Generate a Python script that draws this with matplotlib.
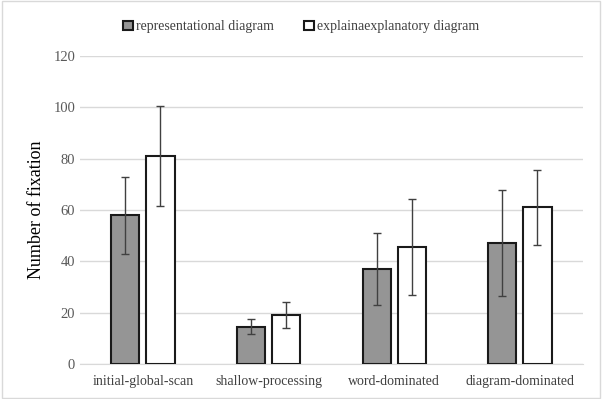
import matplotlib.pyplot as plt
import numpy as np
from matplotlib.patches import Rectangle

categories = ['initial-global-scan', 'shallow-processing', 'word-dominated', 'diagram-dominated']
rep_mean = [58, 14.5, 37, 47]
rep_err = [15, 3, 14, 20.7]
exp_mean = [81, 19, 45.5, 61]
exp_err = [19.5, 5, 18.7, 14.6]
series_names = ['representational diagram', 'explainaexplanatory diagram']

plt.rcParams['font.family'] = 'Liberation Serif'

fig = plt.figure(figsize=(6.02, 3.99), dpi=100)
fig.patches.append(Rectangle((0.003, 0.003), 0.994, 0.994, transform=fig.transFigure,
                             fill=False, edgecolor='#d9d9d9', linewidth=1))
ax = fig.add_axes([0.133, 0.088, 0.835, 0.772])

x = np.arange(len(categories))
w = 0.225
off = 0.14
ekw = dict(ecolor='#404040', elinewidth=1, capsize=3, capthick=1)
ax.bar(x - off, rep_mean, w, yerr=rep_err, color='#959595', edgecolor='#1a1a1a',
       linewidth=1.5, error_kw=ekw, label=series_names[0], zorder=3)
ax.bar(x + off, exp_mean, w, yerr=exp_err, color='white', edgecolor='#1a1a1a',
       linewidth=1.5, error_kw=ekw, label=series_names[1], zorder=3)

ax.set_xlim(-0.5, len(categories) - 0.5)
ax.set_ylim(0, 120)
ax.set_yticks(np.arange(0, 121, 20))
ax.yaxis.grid(True, color='#d9d9d9', linewidth=1, zorder=0)
for s in ['top', 'right', 'left']:
    ax.spines[s].set_visible(False)
ax.spines['bottom'].set_color('#d9d9d9')
ax.tick_params(axis='both', length=0, colors='#595959', labelsize=10.5)
ax.tick_params(axis='x', colors='#404040', labelsize=10, pad=8)
ax.set_xticks(x)
ax.set_xticklabels(categories)
ax.set_ylabel('Number of fixation', fontsize=13, labelpad=6, color='black')

fig.legend(loc='upper center', bbox_to_anchor=(0.5, 0.98), ncol=2, frameon=False,
           fontsize=10, handlelength=0.7, handleheight=0.7, handletextpad=0.2,
           columnspacing=2.2, labelcolor='#404040')

plt.savefig('out.png', dpi=100)
